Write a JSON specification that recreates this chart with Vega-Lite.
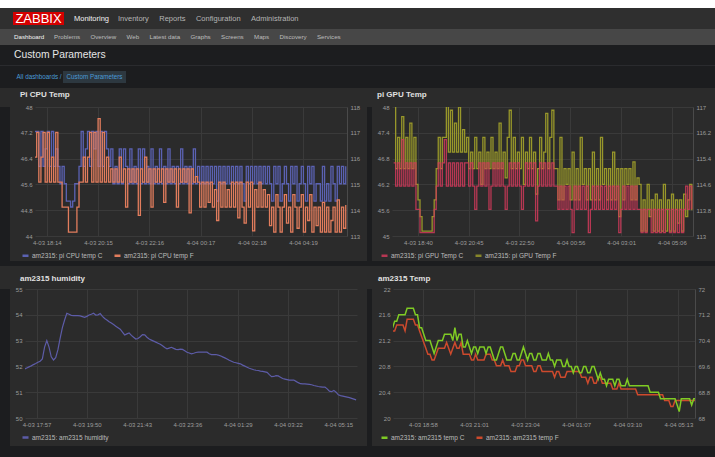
{
"$schema":"https://vega.github.io/schema/vega-lite/v6.json",
"background":"#2b2b2b",
"padding":0,
"config":{
 "font":"Liberation Sans",
 "view":{"stroke":null},
 "axis":{"labelColor":"#9c9c9c","labelFontSize":6,"labelFont":"Liberation Sans","ticks":false,"domain":false,"gridColor":"#3a3a3a","gridWidth":1,"labelPadding":3,"title":null},
 "axisY":{"format":"~g"},
 "title":{"anchor":"start","frame":"group","fontSize":8,"fontWeight":"bold","color":"#e0e0e0","offset":5,"font":"Liberation Sans"},
 "legend":{"orient":"none","direction":"horizontal","legendY":144,"labelColor":"#bbbbbb","labelFontSize":6.5,"labelFont":"Liberation Sans","symbolType":"stroke","symbolStrokeWidth":2.5,"symbolSize":36,"padding":0,"columnPadding":6,"labelOffset":2}
},
"datasets":{
 "menu":[{"item":"ZABBIX"},{"item":"Monitoring"},{"item":"Inventory\u00a0\u00a0\u00a0\u00a0\u00a0Reports\u00a0\u00a0\u00a0\u00a0\u00a0Configuration\u00a0\u00a0\u00a0\u00a0\u00a0Administration"}],
 "sub":[{"item":"Dashboard"},{"item":"Problems\u00a0\u00a0\u00a0\u00a0\u00a0\u00a0Overview\u00a0\u00a0\u00a0\u00a0\u00a0\u00a0Web\u00a0\u00a0\u00a0\u00a0\u00a0\u00a0Latest data\u00a0\u00a0\u00a0\u00a0\u00a0\u00a0Graphs\u00a0\u00a0\u00a0\u00a0\u00a0\u00a0Screens\u00a0\u00a0\u00a0\u00a0\u00a0\u00a0Maps\u00a0\u00a0\u00a0\u00a0\u00a0\u00a0Discovery\u00a0\u00a0\u00a0\u00a0\u00a0\u00a0Services"}],
 "head":[{"item":"Custom Parameters"}],
 "crumb":[{"item":"All dashboards /"},{"item":"Custom Parameters"}],
 "pi":[
{"t":"2019-04-03T17:30","h":51.9},
{"t":"2019-04-03T17:35","h":51.94},
{"t":"2019-04-03T17:40","gc":46.7,"gf":117.02,"h":51.98},
{"t":"2019-04-03T17:45","cc":47.24,"cf":116.06,"gc":46.16,"gf":115.09,"h":52.02,"tc":21.4,"tf":70.7},
{"t":"2019-04-03T17:50","cc":47.24,"cf":117.02,"gc":46.7,"gf":116.06,"h":52.07,"tc":21.5,"tf":70.7},
{"t":"2019-04-03T17:55","cc":46.16,"cf":115.09,"gc":46.16,"gf":115.09,"h":52.11,"tc":21.5,"tf":70.88},
{"t":"2019-04-03T18:00","cc":47.24,"cf":116.06,"gc":47.24,"gf":116.7,"h":52.16,"tc":21.6,"tf":70.88},
{"t":"2019-04-03T18:05","cc":46.16,"cf":117.02,"gc":46.16,"gf":115.09,"h":52.2,"tc":21.6,"tf":70.88},
{"t":"2019-04-03T18:10","cc":46.7,"cf":115.09,"gc":46.7,"gf":116.06,"h":52.29,"tc":21.6,"tf":70.88},
{"t":"2019-04-03T18:15","cc":47.24,"cf":117.02,"gc":46.16,"gf":115.09,"h":52.75,"tc":21.6,"tf":70.7},
{"t":"2019-04-03T18:20","cc":46.16,"cf":115.09,"gc":46.7,"gf":116.5,"h":53.0,"tc":21.7,"tf":71.06},
{"t":"2019-04-03T18:25","cc":47.24,"cf":116.06,"gc":46.16,"gf":115.09,"h":52.75,"tc":21.7,"tf":71.06},
{"t":"2019-04-03T18:30","cc":46.16,"cf":115.09,"gc":46.7,"gf":116.06,"h":52.37,"tc":21.7,"tf":71.06},
{"t":"2019-04-03T18:35","cc":46.7,"cf":117.02,"gc":45.62,"gf":114.6,"h":52.25,"tc":21.7,"tf":71.06},
{"t":"2019-04-03T18:40","cc":46.16,"cf":115.09,"gc":45.62,"gf":114.12,"h":52.34,"tc":21.6,"tf":70.88},
{"t":"2019-04-03T18:45","cc":45.62,"cf":115.09,"gc":45.08,"gf":113.6,"h":52.65,"tc":21.6,"tf":70.88},
{"t":"2019-04-03T18:50","cc":46.16,"cf":114.12,"gc":45.08,"gf":113.15,"h":53.1,"tc":21.4,"tf":70.7},
{"t":"2019-04-03T18:55","cc":45.62,"cf":114.12,"gc":45.08,"gf":113.15,"h":53.5,"tc":21.4,"tf":70.52},
{"t":"2019-04-03T19:00","cc":45.08,"cf":114.12,"gc":45.08,"gf":113.15,"h":53.8,"tc":21.3,"tf":70.34},
{"t":"2019-04-03T19:05","cc":45.08,"cf":113.15,"gc":45.08,"gf":113.15,"h":54.06,"tc":21.2,"tf":70.16},
{"t":"2019-04-03T19:10","cc":44.9,"cf":113.15,"gc":45.08,"gf":113.15,"h":54.02,"tc":21.2,"tf":69.98},
{"t":"2019-04-03T19:15","cc":45.08,"cf":113.15,"gc":45.08,"gf":113.6,"h":53.98,"tc":21.2,"tf":69.98},
{"t":"2019-04-03T19:20","cc":45.62,"cf":113.15,"gc":45.62,"gf":114.12,"h":53.97,"tc":21.1,"tf":69.8},
{"t":"2019-04-03T19:25","cc":45.62,"cf":114.12,"gc":46.16,"gf":115.09,"h":53.97,"tc":21.0,"tf":69.8},
{"t":"2019-04-03T19:30","cc":46.16,"cf":115.09,"gc":46.7,"gf":116.06,"h":53.97,"tc":21.1,"tf":69.98},
{"t":"2019-04-03T19:35","cc":47.24,"cf":115.09,"gc":46.16,"gf":115.09,"h":53.96,"tc":21.2,"tf":70.16},
{"t":"2019-04-03T19:40","cc":46.16,"cf":116.06,"gc":46.7,"gf":116.06,"h":53.93,"tc":21.2,"tf":70.16},
{"t":"2019-04-03T19:45","cc":46.7,"cf":115.09,"gc":47.24,"gf":116.06,"h":53.9,"tc":21.2,"tf":70.16},
{"t":"2019-04-03T19:50","cc":47.24,"cf":116.06,"gc":46.16,"gf":117.02,"h":53.94,"tc":21.3,"tf":70.16},
{"t":"2019-04-03T19:55","cc":46.16,"cf":117.02,"gc":46.7,"gf":115.6,"h":53.99,"tc":21.3,"tf":70.34},
{"t":"2019-04-03T20:00","cc":47.24,"cf":115.09,"gc":46.16,"gf":116.9,"h":54.02,"tc":21.3,"tf":70.16},
{"t":"2019-04-03T20:05","cc":46.7,"cf":117.02,"gc":46.7,"gf":115.6,"h":54.06,"tc":21.3,"tf":69.98},
{"t":"2019-04-03T20:10","cc":47.24,"cf":115.09,"gc":46.16,"gf":116.5,"h":53.99,"tc":21.2,"tf":70.16},
{"t":"2019-04-03T20:15","cc":46.16,"cf":117.55,"gc":46.7,"gf":115.6,"h":54.0,"tc":21.4,"tf":70.34},
{"t":"2019-04-03T20:20","cc":47.24,"cf":115.09,"gc":46.16,"gf":117.0,"h":54.05,"tc":21.2,"tf":70.16},
{"t":"2019-04-03T20:25","cc":46.16,"cf":117.02,"gc":46.7,"gf":115.6,"h":53.94,"tc":21.3,"tf":70.16},
{"t":"2019-04-03T20:30","cc":47.24,"cf":115.09,"gc":46.16,"gf":116.3,"h":53.86,"tc":21.3,"tf":70.34},
{"t":"2019-04-03T20:35","cc":46.7,"cf":116.06,"gc":46.7,"gf":115.6,"h":53.8,"tc":21.1,"tf":69.98},
{"t":"2019-04-03T20:40","cc":46.16,"cf":115.09,"gc":46.7,"gf":116.06,"h":53.73,"tc":21.1,"tf":69.98},
{"t":"2019-04-03T20:45","cc":46.7,"cf":115.6,"gc":46.16,"gf":115.09,"h":53.68,"tc":21.2,"tf":69.98},
{"t":"2019-04-03T20:50","cc":45.62,"cf":115.09,"gc":46.7,"gf":115.6,"h":53.62,"tc":21.1,"tf":69.98},
{"t":"2019-04-03T20:55","cc":46.16,"cf":115.6,"gc":46.16,"gf":115.09,"h":53.56,"tc":21.0,"tf":69.8},
{"t":"2019-04-03T21:00","cc":45.62,"cf":115.09,"gc":45.62,"gf":116.06,"h":53.5,"tc":21.1,"tf":69.8},
{"t":"2019-04-03T21:05","cc":46.7,"cf":116.06,"gc":46.16,"gf":115.09,"h":53.44,"tc":21.1,"tf":69.98},
{"t":"2019-04-03T21:10","cc":45.62,"cf":115.09,"gc":46.7,"gf":115.6,"h":53.33,"tc":21.0,"tf":69.8},
{"t":"2019-04-03T21:15","cc":46.7,"cf":115.6,"gc":46.16,"gf":114.6,"h":53.22,"tc":21.1,"tf":69.8},
{"t":"2019-04-03T21:20","cc":46.16,"cf":114.12,"gc":46.7,"gf":116.06,"h":53.26,"tc":21.1,"tf":69.8},
{"t":"2019-04-03T21:25","cc":45.62,"cf":115.6,"gc":46.16,"gf":115.09,"h":53.3,"tc":21.1,"tf":69.8},
{"t":"2019-04-03T21:30","cc":46.7,"cf":115.09,"gc":46.7,"gf":115.6,"h":53.2,"tc":21.0,"tf":69.98},
{"t":"2019-04-03T21:35","cc":45.62,"cf":115.6,"gc":45.62,"gf":115.09,"h":53.13,"tc":21.1,"tf":69.98},
{"t":"2019-04-03T21:40","cc":46.16,"cf":115.09,"gc":46.16,"gf":116.06,"h":53.06,"tc":21.1,"tf":69.98},
{"t":"2019-04-03T21:45","cc":45.62,"cf":115.6,"gc":46.7,"gf":115.09,"h":53.08,"tc":21.0,"tf":69.8},
{"t":"2019-04-03T21:50","cc":46.7,"cf":113.8,"gc":46.16,"gf":115.6,"h":53.15,"tc":20.9,"tf":69.8},
{"t":"2019-04-03T21:55","cc":45.62,"cf":115.6,"gc":46.7,"gf":115.09,"h":53.23,"tc":20.9,"tf":69.62},
{"t":"2019-04-03T22:00","cc":46.7,"cf":115.09,"gc":46.16,"gf":116.5,"h":53.22,"tc":21.0,"tf":69.62},
{"t":"2019-04-03T22:05","cc":45.62,"cf":116.06,"gc":46.7,"gf":115.09,"h":53.13,"tc":21.1,"tf":69.62},
{"t":"2019-04-03T22:10","cc":46.16,"cf":115.09,"gc":46.16,"gf":115.6,"h":53.06,"tc":21.1,"tf":69.8},
{"t":"2019-04-03T22:15","cc":45.62,"cf":115.6,"gc":45.62,"gf":114.8,"h":53.02,"tc":21.0,"tf":69.62},
{"t":"2019-04-03T22:20","cc":46.7,"cf":114.12,"gc":46.16,"gf":116.06,"h":52.98,"tc":20.9,"tf":69.62},
{"t":"2019-04-03T22:25","cc":45.62,"cf":115.6,"gc":46.7,"gf":116.9,"h":52.94,"tc":20.9,"tf":69.62},
{"t":"2019-04-03T22:30","cc":46.16,"cf":115.09,"gc":46.16,"gf":115.09,"h":52.9,"tc":20.9,"tf":69.44},
{"t":"2019-04-03T22:35","cc":45.62,"cf":115.6,"gc":46.7,"gf":116.06,"h":52.86,"tc":21.0,"tf":69.44},
{"t":"2019-04-03T22:40","cc":46.7,"cf":115.09,"gc":46.16,"gf":115.09,"h":52.8,"tc":21.0,"tf":69.44},
{"t":"2019-04-03T22:45","cc":45.62,"cf":115.6,"gc":46.7,"gf":115.6,"h":52.73,"tc":20.9,"tf":69.62},
{"t":"2019-04-03T22:50","cc":46.16,"cf":114.3,"gc":46.16,"gf":115.09,"h":52.68,"tc":20.9,"tf":69.62},
{"t":"2019-04-03T22:55","cc":45.62,"cf":115.6,"gc":45.62,"gf":116.06,"h":52.71,"tc":21.0,"tf":69.8},
{"t":"2019-04-03T23:00","cc":46.7,"cf":115.09,"gc":46.16,"gf":114.6,"h":52.74,"tc":21.1,"tf":69.8},
{"t":"2019-04-03T23:05","cc":45.62,"cf":115.6,"gc":46.7,"gf":115.6,"h":52.7,"tc":21.0,"tf":69.62},
{"t":"2019-04-03T23:10","cc":46.16,"cf":115.09,"gc":46.16,"gf":115.09,"h":52.66,"tc":20.9,"tf":69.62},
{"t":"2019-04-03T23:15","cc":45.62,"cf":115.6,"gc":46.7,"gf":116.06,"h":52.65,"tc":21.0,"tf":69.62},
{"t":"2019-04-03T23:20","cc":46.16,"cf":114.12,"gc":46.16,"gf":115.09,"h":52.67,"tc":21.0,"tf":69.62},
{"t":"2019-04-03T23:25","cc":45.62,"cf":115.6,"gc":46.7,"gf":115.6,"h":52.66,"tc":20.9,"tf":69.44},
{"t":"2019-04-03T23:30","cc":46.7,"cf":115.09,"gc":45.35,"gf":114.3,"h":52.61,"tc":20.9,"tf":69.44},
{"t":"2019-04-03T23:35","cc":45.62,"cf":115.6,"gc":46.16,"gf":115.09,"h":52.55,"tc":21.0,"tf":69.62},
{"t":"2019-04-03T23:40","cc":46.16,"cf":115.09,"gc":46.7,"gf":116.06,"h":52.52,"tc":21.0,"tf":69.62},
{"t":"2019-04-03T23:45","cc":45.62,"cf":115.6,"gc":46.16,"gf":115.09,"h":52.49,"tc":20.9,"tf":69.44},
{"t":"2019-04-03T23:50","cc":46.16,"cf":113.9,"gc":46.7,"gf":115.6,"h":52.51,"tc":20.9,"tf":69.44},
{"t":"2019-04-03T23:55","cc":45.62,"cf":115.6,"gc":46.16,"gf":116.8,"h":52.54,"tc":20.9,"tf":69.44},
{"t":"2019-04-04T00:00","cc":46.7,"cf":115.09,"gc":46.7,"gf":115.09,"h":52.55,"tc":21.0,"tf":69.44},
{"t":"2019-04-04T00:05","cc":45.62,"cf":115.3,"gc":46.16,"gf":116.06,"h":52.55,"tc":20.9,"tf":69.44},
{"t":"2019-04-04T00:10","cc":46.16,"cf":115.09,"gc":46.7,"gf":116.9,"h":52.55,"tc":20.9,"tf":69.44},
{"t":"2019-04-04T00:15","cc":45.62,"cf":114.12,"gc":46.16,"gf":115.09,"h":52.55,"tc":20.8,"tf":69.26},
{"t":"2019-04-04T00:20","cc":46.16,"cf":115.09,"gc":46.16,"gf":115.09,"h":52.55,"tc":20.9,"tf":69.44},
{"t":"2019-04-04T00:25","cc":45.62,"cf":114.12,"gc":45.62,"gf":114.12,"h":52.49,"tc":20.9,"tf":69.44},
{"t":"2019-04-04T00:30","cc":46.16,"cf":115.09,"gc":46.16,"gf":116.06,"h":52.46,"tc":20.9,"tf":69.26},
{"t":"2019-04-04T00:35","cc":45.62,"cf":114.3,"gc":45.62,"gf":114.12,"h":52.46,"tc":20.8,"tf":69.26},
{"t":"2019-04-04T00:40","cc":46.16,"cf":115.09,"gc":46.16,"gf":115.09,"h":52.46,"tc":20.8,"tf":69.26},
{"t":"2019-04-04T00:45","cc":45.62,"cf":114.12,"gc":45.62,"gf":114.6,"h":52.44,"tc":20.9,"tf":69.44},
{"t":"2019-04-04T00:50","cc":46.16,"cf":114.8,"gc":46.16,"gf":115.09,"h":52.41,"tc":20.8,"tf":69.44},
{"t":"2019-04-04T00:55","cc":45.08,"cf":113.6,"gc":45.62,"gf":114.12,"h":52.37,"tc":20.8,"tf":69.44},
{"t":"2019-04-04T01:00","cc":46.16,"cf":115.09,"gc":45.08,"gf":115.6,"h":52.33,"tc":20.7,"tf":69.44},
{"t":"2019-04-04T01:05","cc":45.62,"cf":114.12,"gc":46.16,"gf":114.12,"h":52.29,"tc":20.8,"tf":69.44},
{"t":"2019-04-04T01:10","cc":46.16,"cf":115.09,"gc":45.62,"gf":115.09,"h":52.24,"tc":20.8,"tf":69.44},
{"t":"2019-04-04T01:15","cc":45.62,"cf":114.12,"gc":46.16,"gf":114.12,"h":52.2,"tc":20.7,"tf":69.44},
{"t":"2019-04-04T01:20","cc":46.16,"cf":114.8,"gc":45.62,"gf":116.06,"h":52.16,"tc":20.7,"tf":69.26},
{"t":"2019-04-04T01:25","cc":45.62,"cf":114.12,"gc":46.16,"gf":114.6,"h":52.14,"tc":20.8,"tf":69.26},
{"t":"2019-04-04T01:30","cc":46.16,"cf":115.09,"gc":45.62,"gf":115.09,"h":52.12,"tc":20.8,"tf":69.26},
{"t":"2019-04-04T01:35","cc":45.62,"cf":114.12,"gc":46.16,"gf":114.12,"h":52.1,"tc":20.7,"tf":69.08},
{"t":"2019-04-04T01:40","cc":46.16,"cf":115.09,"gc":45.08,"gf":115.09,"h":52.05,"tc":20.7,"tf":69.26},
{"t":"2019-04-04T01:45","cc":45.62,"cf":113.7,"gc":45.62,"gf":114.12,"h":52.01,"tc":20.8,"tf":69.26},
{"t":"2019-04-04T01:50","cc":46.16,"cf":115.09,"gc":46.16,"gf":115.6,"h":51.97,"tc":20.8,"tf":69.08},
{"t":"2019-04-04T01:55","cc":45.62,"cf":114.12,"gc":45.62,"gf":114.12,"h":51.93,"tc":20.7,"tf":69.08},
{"t":"2019-04-04T02:00","cc":45.08,"cf":113.5,"gc":46.16,"gf":115.09,"h":51.9,"tc":20.6,"tf":69.26},
{"t":"2019-04-04T02:05","cc":46.16,"cf":115.09,"gc":45.62,"gf":114.12,"h":51.87,"tc":20.7,"tf":69.26},
{"t":"2019-04-04T02:10","cc":45.62,"cf":114.12,"gc":46.16,"gf":116.06,"h":51.85,"tc":20.6,"tf":69.08},
{"t":"2019-04-04T02:15","cc":46.16,"cf":115.09,"gc":45.62,"gf":114.6,"h":51.84,"tc":20.6,"tf":69.08},
{"t":"2019-04-04T02:20","cc":45.62,"cf":113.2,"gc":46.16,"gf":115.09,"h":51.82,"tc":20.5,"tf":69.08},
{"t":"2019-04-04T02:25","cc":46.16,"cf":114.8,"gc":45.62,"gf":114.12,"h":51.81,"tc":20.6,"tf":69.08},
{"t":"2019-04-04T02:30","cc":45.62,"cf":114.12,"gc":46.16,"gf":115.09,"h":51.79,"tc":20.6,"tf":69.08},
{"t":"2019-04-04T02:35","cc":46.16,"cf":115.09,"gc":45.62,"gf":114.12,"h":51.77,"tc":20.6,"tf":68.9},
{"t":"2019-04-04T02:40","cc":45.62,"cf":114.12,"gc":46.16,"gf":115.6,"h":51.68,"tc":20.5,"tf":68.9},
{"t":"2019-04-04T02:45","cc":46.16,"cf":114.8,"gc":45.62,"gf":114.12,"h":51.6,"tc":20.6,"tf":68.9},
{"t":"2019-04-04T02:50","cc":45.62,"cf":114.12,"gc":46.16,"gf":115.09,"h":51.61,"tc":20.6,"tf":69.08},
{"t":"2019-04-04T02:55","cc":46.16,"cf":114.6,"gc":45.08,"gf":113.6,"h":51.64,"tc":20.5,"tf":68.9},
{"t":"2019-04-04T03:00","cc":45.62,"cf":113.4,"gc":45.62,"gf":115.09,"h":51.63,"tc":20.5,"tf":68.9},
{"t":"2019-04-04T03:05","cc":45.08,"cf":114.12,"gc":46.16,"gf":114.12,"h":51.58,"tc":20.5,"tf":68.9},
{"t":"2019-04-04T03:10","cc":46.16,"cf":113.15,"gc":45.62,"gf":115.09,"h":51.53,"tc":20.6,"tf":68.9},
{"t":"2019-04-04T03:15","cc":45.62,"cf":114.6,"gc":46.16,"gf":114.6,"h":51.51,"tc":20.5,"tf":68.9},
{"t":"2019-04-04T03:20","cc":46.16,"cf":114.12,"gc":45.62,"gf":115.09,"h":51.49,"tc":20.5,"tf":68.9},
{"t":"2019-04-04T03:25","cc":45.08,"cf":113.15,"gc":46.16,"gf":114.12,"h":51.47,"tc":20.5,"tf":68.9},
{"t":"2019-04-04T03:30","cc":45.62,"cf":114.12,"gc":45.62,"gf":115.3,"h":51.47,"tc":20.5,"tf":68.9},
{"t":"2019-04-04T03:35","cc":46.16,"cf":114.6,"gc":46.16,"gf":114.12,"h":51.47,"tc":20.5,"tf":68.72},
{"t":"2019-04-04T03:40","cc":45.62,"cf":113.5,"gc":45.62,"gf":114.8,"h":51.42,"tc":20.5,"tf":68.72},
{"t":"2019-04-04T03:45","cc":45.08,"cf":114.12,"gc":45.62,"gf":114.6,"h":51.37,"tc":20.5,"tf":68.72},
{"t":"2019-04-04T03:50","cc":46.16,"cf":113.15,"gc":45.08,"gf":113.15,"h":51.33,"tc":20.5,"tf":68.72},
{"t":"2019-04-04T03:55","cc":45.62,"cf":114.6,"gc":45.62,"gf":114.12,"h":51.32,"tc":20.5,"tf":68.72},
{"t":"2019-04-04T04:00","cc":46.16,"cf":114.12,"gc":45.08,"gf":113.15,"h":51.32,"tc":20.5,"tf":68.72},
{"t":"2019-04-04T04:05","cc":45.08,"cf":113.3,"gc":45.62,"gf":114.6,"h":51.31,"tc":20.4,"tf":68.72},
{"t":"2019-04-04T04:10","cc":45.62,"cf":114.12,"gc":45.62,"gf":113.6,"h":51.3,"tc":20.4,"tf":68.72},
{"t":"2019-04-04T04:15","cc":46.16,"cf":114.6,"gc":45.08,"gf":114.12,"h":51.29,"tc":20.4,"tf":68.72},
{"t":"2019-04-04T04:20","cc":45.62,"cf":113.15,"gc":45.62,"gf":113.15,"h":51.26,"tc":20.4,"tf":68.72},
{"t":"2019-04-04T04:25","cc":45.08,"cf":114.12,"gc":45.08,"gf":114.3,"h":51.24,"tc":20.4,"tf":68.72},
{"t":"2019-04-04T04:30","cc":46.16,"cf":113.6,"gc":45.62,"gf":113.15,"h":51.22,"tc":20.3,"tf":68.72},
{"t":"2019-04-04T04:35","cc":45.62,"cf":114.6,"gc":45.08,"gf":114.12,"h":51.21,"tc":20.3,"tf":68.72},
{"t":"2019-04-04T04:40","cc":46.16,"cf":113.15,"gc":45.62,"gf":113.15,"h":51.2,"tc":20.3,"tf":68.54},
{"t":"2019-04-04T04:45","cc":45.08,"cf":114.12,"gc":45.08,"gf":114.6,"h":51.2,"tc":20.3,"tf":68.54},
{"t":"2019-04-04T04:50","cc":45.62,"cf":113.4,"gc":45.62,"gf":113.15,"h":51.13,"tc":20.3,"tf":68.54},
{"t":"2019-04-04T04:55","cc":45.62,"cf":114.12,"gc":45.62,"gf":114.12,"h":51.04,"tc":20.3,"tf":68.36},
{"t":"2019-04-04T05:00","cc":45.08,"cf":113.15,"gc":45.08,"gf":113.15,"h":51.02,"tc":20.3,"tf":68.36},
{"t":"2019-04-04T05:05","cc":46.16,"cf":114.3,"gc":45.62,"gf":114.3,"h":51.07,"tc":20.3,"tf":68.54},
{"t":"2019-04-04T05:10","cc":45.08,"cf":113.15,"gc":45.08,"gf":113.15,"h":51.0,"tc":20.2,"tf":68.54},
{"t":"2019-04-04T05:15","cc":45.62,"cf":114.12,"gc":45.62,"gf":114.12,"h":50.9,"tc":20.1,"tf":68.54},
{"t":"2019-04-04T05:20","cc":45.08,"cf":113.15,"gc":45.08,"gf":113.4,"h":50.87,"tc":20.3,"tf":68.54},
{"t":"2019-04-04T05:25","cc":46.16,"cf":113.6,"gc":45.62,"gf":114.12,"h":50.85,"tc":20.3,"tf":68.54},
{"t":"2019-04-04T05:30","cc":45.62,"cf":114.12,"gc":45.08,"gf":113.15,"h":50.83,"tc":20.3,"tf":68.54},
{"t":"2019-04-04T05:35","cc":45.08,"cf":113.15,"gc":45.62,"gf":114.3,"h":50.81,"tc":20.3,"tf":68.54},
{"t":"2019-04-04T05:40","cc":46.16,"cf":114.4,"gc":46.16,"gf":113.6,"h":50.79,"tc":20.3,"tf":68.54},
{"t":"2019-04-04T05:45","cc":45.62,"cf":113.15,"gc":45.62,"gf":114.12,"h":50.76,"tc":20.2,"tf":68.54},
{"t":"2019-04-04T05:50","cc":46.16,"cf":114.12,"gc":46.16,"gf":114.6,"h":50.73,"tc":20.3,"tf":68.54},
{"t":"2019-04-04T05:55","cc":45.62,"cf":113.3,"gc":45.62,"gf":113.8,"h":50.7,"tc":20.3,"tf":68.54},
{"t":"2019-04-04T06:00","cc":46.16,"cf":114.2}
 ]
},
"resolve":{"scale":{"color":"independent"}},
"columns":1,
"spacing":0,
"concat":[
 {"width":715,"height":8,"view":{"fill":"#ffffff","stroke":null},"data":{"values":[]},"mark":"point"},
 {"width":715,"height":21,"view":{"fill":"#2f2f2f","stroke":null},"data":{"name":"menu"},
  "layer":[
   {"transform":[{"filter":"datum.item == 'ZABBIX'"}],"mark":{"type":"point","shape":"M-1,-0.255H1V0.255H-1Z","size":2601,"filled":true,"opacity":1,"color":"#d40000"},
    "encoding":{"x":{"field":"item","type":"nominal","axis":null,"scale":{"type":"point","padding":0,"range":[38.5,38.5]}}}},
   {"transform":[{"filter":"datum.item == 'ZABBIX'"}],"mark":{"type":"text","fontSize":13,"color":"#ffffff"},
    "encoding":{"x":{"field":"item","type":"nominal","axis":null,"scale":{"type":"point","padding":0,"range":[38.5,38.5]}},"text":{"field":"item"}}},
   {"transform":[{"filter":"datum.item != 'ZABBIX'"}],"mark":{"type":"text","fontSize":7.5,"align":"left"},
    "encoding":{"x":{"field":"item","type":"nominal","sort":null,"axis":null,"scale":{"type":"point","padding":0,"range":[74,118]}},"text":{"field":"item"},
     "color":{"condition":{"test":"datum.item == 'Monitoring'","value":"#f2f2f2"},"value":"#b5b5b5"}}}
  ],
  "resolve":{"scale":{"x":"independent"}}},
 {"width":715,"height":16,"view":{"fill":"#474747","stroke":null},"data":{"name":"sub"},
  "mark":{"type":"text","fontSize":6.2,"align":"left"},
  "encoding":{"x":{"field":"item","type":"nominal","sort":null,"axis":null,"scale":{"type":"point","padding":0,"range":[14,54]}},
   "text":{"field":"item"},
   "color":{"condition":{"test":"datum.item == 'Dashboard'","value":"#f2f2f2"},"value":"#bdbdbd"}}},
 {"width":715,"height":20,"view":{"fill":"#1c1d1f","stroke":null},"data":{"name":"head"},
  "mark":{"type":"text","fontSize":10.3,"align":"left","color":"#e6e6e6"},
  "encoding":{"x":{"field":"item","type":"nominal","axis":null,"scale":{"type":"point","padding":0,"range":[14,14]}},"text":{"field":"item"}}},
 {"width":715,"height":1,"view":{"fill":"#2a2b2e","stroke":null},"data":{"values":[]},"mark":"point"},
 {"width":715,"height":22,"view":{"fill":"#1c1d1f","stroke":null},"data":{"name":"crumb"},
  "encoding":{"x":{"field":"item","type":"nominal","sort":null,"axis":null,"scale":{"type":"point","domain":["All dashboards /","Custom Parameters"],"padding":0,"range":[39,94.5]}}},
  "layer":[
   {"transform":[{"filter":"datum.item == 'Custom Parameters'"}],"mark":{"type":"point","shape":"M-1,-0.19H1V0.19H-1Z","size":3969,"filled":true,"opacity":1,"color":"#2d3840"}},
   {"mark":{"type":"text","fontSize":6.3,"color":"#4b9bd6"},"encoding":{"text":{"field":"item"}}}
  ]},
 {"width":715,"height":3,"data":{"values":[]},"mark":"point"},
 {"hconcat":[
   {"width":10,"height":154,"view":{"fill":"#1c1d1f","stroke":null},"data":{"values":[]},"mark":"point"},
   {"width":312,"height":129,
    "title":{"text":"Pi CPU Temp","dx":-15},
    "data":{"name":"pi"},
    "encoding":{"x":{"field":"t","type":"temporal","title":null,
      "scale":{"domain":[{"year":2019,"month":4,"date":3,"hours":17,"minutes":46},{"year":2019,"month":4,"date":4,"hours":6,"minutes":3}]},
      "axis":{"format":"%-m-%d %H:%M","grid":true,"values":[
        {"year":2019,"month":4,"date":3,"hours":18,"minutes":14},{"year":2019,"month":4,"date":3,"hours":20,"minutes":15},{"year":2019,"month":4,"date":3,"hours":22,"minutes":16},
        {"year":2019,"month":4,"date":4,"hours":0,"minutes":17},{"year":2019,"month":4,"date":4,"hours":2,"minutes":18},{"year":2019,"month":4,"date":4,"hours":4,"minutes":19}]}}},
    "layer":[
     {"mark":{"type":"line","clip":true,"strokeWidth":1.3,"interpolate":"step-after"},
      "encoding":{"y":{"field":"cc","type":"quantitative","title":null,"scale":{"domain":[44,48]},"axis":{"orient":"left","grid":true,"minExtent":25,"values":[44,44.8,45.6,46.4,47.2,48]}},
       "color":{"datum":"am2315: pi CPU temp C","type":"nominal","legend":{"title":null,"legendX":-14},"scale":{"domain":["am2315: pi CPU temp C","am2315: pi CPU temp F"],"range":["#5b62b3","#e27d5d"]}}}},
     {"mark":{"type":"line","clip":true,"strokeWidth":1.3,"interpolate":"step-after"},
      "encoding":{"y":{"field":"cf","type":"quantitative","title":null,"scale":{"domain":[113,118]},"axis":{"orient":"right","grid":false,"domain":true,"domainColor":"#4a4a4a","minExtent":20,"values":[113,114,115,116,117,118]}},
       "color":{"datum":"am2315: pi CPU temp F","type":"nominal"}}}
    ],
    "resolve":{"scale":{"y":"independent"}}},
   {"width":5,"height":154,"view":{"fill":"#1c1d1f","stroke":null},"data":{"values":[]},"mark":"point"},
   {"width":301,"height":129,
    "title":{"text":"pi GPU Temp","dx":-15},
    "data":{"name":"pi"},
    "encoding":{"x":{"field":"t","type":"temporal","title":null,
      "scale":{"domain":[{"year":2019,"month":4,"date":3,"hours":17,"minutes":36},{"year":2019,"month":4,"date":4,"hours":5,"minutes":58}]},
      "axis":{"format":"%-m-%d %H:%M","grid":true,"values":[
        {"year":2019,"month":4,"date":3,"hours":18,"minutes":40},{"year":2019,"month":4,"date":3,"hours":20,"minutes":45},{"year":2019,"month":4,"date":3,"hours":22,"minutes":50},
        {"year":2019,"month":4,"date":4,"hours":0,"minutes":56},{"year":2019,"month":4,"date":4,"hours":3,"minutes":1},{"year":2019,"month":4,"date":4,"hours":5,"minutes":6}]}}},
    "layer":[
     {"mark":{"type":"line","clip":true,"strokeWidth":1.3,"interpolate":"step-after"},
      "encoding":{"y":{"field":"gf","type":"quantitative","title":null,"scale":{"domain":[113,117]},"axis":{"orient":"right","grid":false,"domain":true,"domainColor":"#4a4a4a","minExtent":20,"values":[113,113.8,114.6,115.4,116.2,117]}},
       "color":{"datum":"am2315: pi GPU Temp F","type":"nominal","legend":{"title":null,"legendX":-12},"scale":{"domain":["am2315: pi GPU Temp C","am2315: pi GPU Temp F"],"range":["#d03a5a","#98972a"]}}}},
     {"mark":{"type":"line","clip":true,"strokeWidth":1.3,"opacity":0.85,"interpolate":"step-after"},
      "encoding":{"y":{"field":"gc","type":"quantitative","title":null,"scale":{"domain":[45,48]},"axis":{"orient":"left","grid":true,"minExtent":20,"values":[45,45.6,46.2,46.8,47.4,48]}},
       "color":{"datum":"am2315: pi GPU Temp C","type":"nominal"}}}
    ],
    "resolve":{"scale":{"y":"independent"}}}
  ],"spacing":0,"resolve":{"scale":{"color":"independent"}}},
 {"width":715,"height":5,"view":{"fill":"#1c1d1f","stroke":null},"data":{"values":[]},"mark":"point"},
 {"width":715,"height":7.5,"data":{"values":[]},"mark":"point"},
 {"hconcat":[
   {"width":10,"height":157,"view":{"fill":"#1c1d1f","stroke":null},"data":{"values":[]},"mark":"point"},
   {"width":332,"height":129,
    "title":{"text":"am2315 humidity","dx":-5,"offset":3.5},
    "data":{"name":"pi"},
    "encoding":{"x":{"field":"t","type":"temporal","title":null,
      "scale":{"domain":[{"year":2019,"month":4,"date":3,"hours":17,"minutes":31},{"year":2019,"month":4,"date":4,"hours":5,"minutes":57}]},
      "axis":{"format":"%-m-%d %H:%M","grid":true,"values":[
        {"year":2019,"month":4,"date":3,"hours":17,"minutes":57},{"year":2019,"month":4,"date":3,"hours":19,"minutes":50},{"year":2019,"month":4,"date":3,"hours":21,"minutes":43},
        {"year":2019,"month":4,"date":3,"hours":23,"minutes":36},{"year":2019,"month":4,"date":4,"hours":1,"minutes":29},{"year":2019,"month":4,"date":4,"hours":3,"minutes":22},{"year":2019,"month":4,"date":4,"hours":5,"minutes":15}]}}},
    "layer":[
     {"mark":{"type":"line","clip":true,"strokeWidth":1.2},
      "encoding":{"y":{"field":"h","type":"quantitative","title":null,"scale":{"domain":[50,55]},"axis":{"grid":true,"orient":"left","minExtent":15,"values":[50,51,52,53,54,55]}},
       "color":{"datum":"am2315: am2315 humidity","type":"nominal","legend":{"title":null,"legendX":-4},"scale":{"range":["#5d5ca8"]}}}},
     {"mark":{"type":"line","opacity":0},
      "encoding":{"y":{"field":"h","type":"quantitative","title":null,"scale":{"domain":[50,55]},"axis":{"orient":"right","labels":false,"grid":false,"minExtent":10,"maxExtent":10}}}}
    ],
    "resolve":{"scale":{"y":"independent"}}},
   {"width":5,"height":157,"view":{"fill":"#1c1d1f","stroke":null},"data":{"values":[]},"mark":"point"},
   {"width":302,"height":129,
    "title":{"text":"am2315 Temp","dx":-15,"offset":3.5},
    "data":{"name":"pi"},
    "encoding":{"x":{"field":"t","type":"temporal","title":null,
      "scale":{"domain":[{"year":2019,"month":4,"date":3,"hours":17,"minutes":46},{"year":2019,"month":4,"date":4,"hours":5,"minutes":53}]},
      "axis":{"format":"%-m-%d %H:%M","grid":true,"values":[
        {"year":2019,"month":4,"date":3,"hours":18,"minutes":58},{"year":2019,"month":4,"date":3,"hours":21,"minutes":1},{"year":2019,"month":4,"date":3,"hours":23,"minutes":4},
        {"year":2019,"month":4,"date":4,"hours":1,"minutes":7},{"year":2019,"month":4,"date":4,"hours":3,"minutes":10},{"year":2019,"month":4,"date":4,"hours":5,"minutes":13}]}}},
    "layer":[
     {"mark":{"type":"line","clip":true,"strokeWidth":1.5},
      "encoding":{"y":{"field":"tf","type":"quantitative","title":null,"scale":{"domain":[68,72]},"axis":{"orient":"right","grid":false,"domain":true,"domainColor":"#4a4a4a","minExtent":20,"values":[68,68.8,69.6,70.4,71.2,72]}},
       "color":{"datum":"am2315: am2315 temp F","type":"nominal","legend":{"title":null,"legendX":-13},"scale":{"domain":["am2315: am2315 temp C","am2315: am2315 temp F"],"range":["#7fcb24","#cd4a2d"]}}}},
     {"mark":{"type":"line","clip":true,"strokeWidth":1.5},
      "encoding":{"y":{"field":"tc","type":"quantitative","title":null,"scale":{"domain":[20,22]},"axis":{"orient":"left","grid":true,"minExtent":21,"values":[20,20.4,20.8,21.2,21.6,22]}},
       "color":{"datum":"am2315: am2315 temp C","type":"nominal"}}}
    ],
    "resolve":{"scale":{"y":"independent"}}}
  ],"spacing":0,"resolve":{"scale":{"color":"independent"}}},
 {"width":715,"height":12,"view":{"fill":"#1c1d1f","stroke":null},"data":{"values":[]},"mark":"point"}
]
}
